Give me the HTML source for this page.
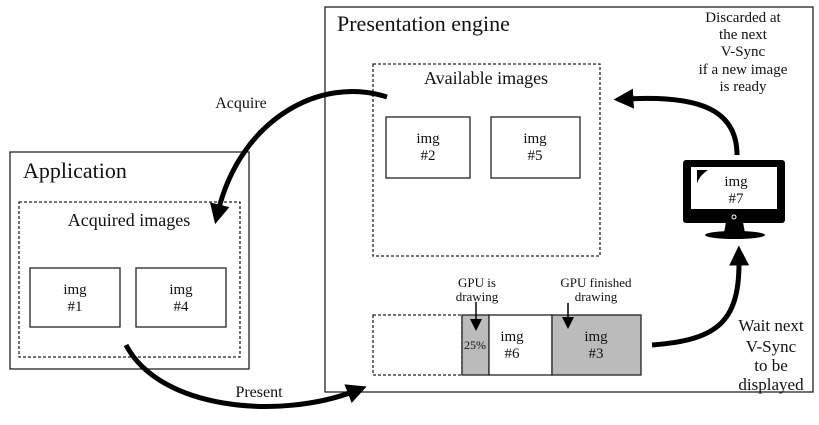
<!DOCTYPE html>
<html><head><style>
body{margin:0;background:#fff;}
svg text{font-family:"Liberation Serif",serif;fill:#111;}
</style></head><body>
<svg width="819" height="420" viewBox="0 0 819 420" xmlns="http://www.w3.org/2000/svg">
<defs>
<marker id="ah" markerWidth="4" markerHeight="4" refX="1.5" refY="2" orient="auto" markerUnits="strokeWidth">
<path d="M0,0 L4,2 L0,4 z" fill="#000"/></marker>
<marker id="sh" markerWidth="8" markerHeight="8" refX="4" refY="4" orient="auto" markerUnits="strokeWidth">
<path d="M0,0 L8,4 L0,8 z" fill="#000"/></marker>
</defs>
<g fill="none" stroke="#222" stroke-width="1.3">
<rect x="325" y="7" width="488" height="385"/>
<rect x="10" y="152" width="239" height="217"/>
<rect x="373" y="64" width="227" height="192" stroke-dasharray="3,2"/>
<rect x="19" y="202" width="221" height="155" stroke-dasharray="3,2"/>
<rect x="386" y="117" width="84" height="61"/>
<rect x="491" y="117" width="89" height="61"/>
<rect x="30" y="268" width="90" height="59"/>
<rect x="136" y="268" width="90" height="59"/>
<rect x="373" y="315" width="89" height="60" stroke-dasharray="3,2"/>
</g>
<rect x="462" y="315" width="27" height="60" fill="#bbb" stroke="#222" stroke-width="1.3"/>
<rect x="489" y="315" width="63" height="60" fill="#fff" stroke="#222" stroke-width="1.3"/>
<rect x="552" y="315" width="89" height="60" fill="#bbb" stroke="#222" stroke-width="1.3"/>
<!-- monitor -->
<rect x="683" y="160" width="102" height="63" rx="3" fill="#000"/>
<rect x="691" y="167" width="86" height="42" fill="#fff"/>
<path d="M697,170 L708,170 Q700,175 697,183 z" fill="#000"/>
<circle cx="734" cy="217" r="2" fill="none" stroke="#fff" stroke-width="1"/>
<path d="M726,222 L743,222 L745,233 L724,233 z" fill="#000"/>
<ellipse cx="735" cy="235" rx="30" ry="4" fill="#000"/>
<!-- arrows -->
<g fill="none" stroke="#000" stroke-width="5">
<path d="M387,97 C320,75 240,120 218,212" marker-end="url(#ah)"/>
<path d="M126,345 C160,410 280,420 355,391" marker-end="url(#ah)"/>
<path d="M652,345 C720,340 740,320 739,258" marker-end="url(#ah)"/>
<path d="M737,155 C737,110 700,95 626,99" marker-end="url(#ah)"/>
</g>
<g stroke="#000" stroke-width="1.5" fill="none">
<path d="M476,302 L476,325" marker-end="url(#sh)"/>
<path d="M568,303 L568,323" marker-end="url(#sh)"/>
</g>
<text x="337" y="31" font-size="22">Presentation engine</text>
<text x="23" y="178" font-size="22">Application</text>
<text x="486" y="84" font-size="18" text-anchor="middle">Available images</text>
<text x="129" y="226" font-size="18" text-anchor="middle">Acquired images</text>
<g font-size="15" text-anchor="middle">
<text x="428" y="143">img</text><text x="428" y="160">#2</text>
<text x="535" y="143">img</text><text x="535" y="160">#5</text>
<text x="75" y="294">img</text><text x="75" y="311">#1</text>
<text x="181" y="294">img</text><text x="181" y="311">#4</text>
<text x="512" y="341">img</text><text x="512" y="358">#6</text>
<text x="596" y="341">img</text><text x="596" y="358">#3</text>
<text x="736" y="186">img</text><text x="736" y="203">#7</text>
<text x="475" y="349" font-size="12">25%</text>
<text x="477" y="287" font-size="13">GPU is</text><text x="477" y="301" font-size="13">drawing</text>
<text x="596" y="287" font-size="13">GPU finished</text><text x="596" y="301" font-size="13">drawing</text>
<text x="771" y="331" font-size="17">Wait next</text>
<text x="771" y="352" font-size="17">V-Sync</text>
<text x="771" y="371" font-size="17">to be</text>
<text x="771" y="390" font-size="17">displayed</text>
<text x="743" y="22" font-size="15">Discarded at</text>
<text x="743" y="39" font-size="15">the next</text>
<text x="743" y="56" font-size="15">V-Sync</text>
<text x="743" y="74" font-size="15">if a new image</text>
<text x="743" y="91" font-size="15">is ready</text>
<text x="241" y="108" font-size="16">Acquire</text>
<text x="259" y="397" font-size="16">Present</text>
</g>
</svg>
</body></html>
